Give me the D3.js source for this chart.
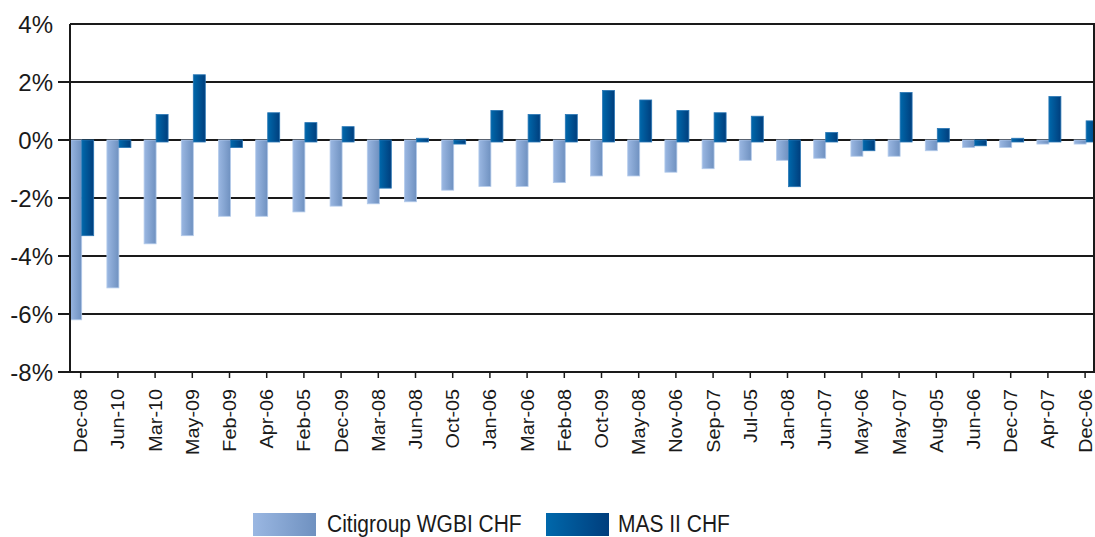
<!DOCTYPE html>
<html>
<head>
<meta charset="utf-8">
<script src="https://cdn.jsdelivr.net/npm/d3@7"></script>
<style>
  body { margin: 0; background: #fff; }
  svg text { font-family: "Liberation Sans", Arial, sans-serif; fill: #1a1a1a; }
</style>
</head>
<body>
<svg id="chart"></svg>
<script>
const categories = ["Dec-08","Jun-10","Mar-10","May-09","Feb-09","Apr-06","Feb-05","Dec-09","Mar-08","Jun-08",
    "Oct-05","Jan-06","Mar-06","Feb-08","Oct-09","May-08","Nov-06","Sep-07","Jul-05","Jan-08",
    "Jun-07","May-06","May-07","Aug-05","Jun-06","Dec-07","Apr-07","Dec-06"]
const citiValues = [-6.2,-5.1,-3.58,-3.3,-2.63,-2.63,-2.48,-2.28,-2.2,-2.13,
    -1.73,-1.6,-1.6,-1.47,-1.24,-1.24,-1.11,-0.99,-0.7,-0.7,
    -0.63,-0.56,-0.56,-0.37,-0.26,-0.26,-0.14,-0.14]
const masValues = [-3.3,-0.26,0.88,2.25,-0.26,0.94,0.6,0.46,-1.66,0.06,
    -0.14,1.02,0.88,0.88,1.71,1.38,1.02,0.94,0.82,-1.61,
    0.26,-0.37,1.64,0.4,-0.2,0.06,1.5,0.66]
const seriesNames = ["Citigroup WGBI CHF", "MAS II CHF"]
const yTicks = [-8, -6, -4, -2, 0, 2, 4]

class ReturnBars {
    constructor(_config) {
        this.config = {
            parentElement: _config.parentElement,
            containerWidth: _config.containerWidth || 1095,
            containerHeight: _config.containerHeight || 537,
            plot: {left: 70, right: 1094, top: 24, bottom: 372}
        }
        this.initVis()
    }

    initVis() {
        let vis = this
        let p = vis.config.plot

        vis.svg = d3.select(vis.config.parentElement)
            .attr('width', vis.config.containerWidth)
            .attr('height', vis.config.containerHeight)

        let defs = vis.svg.append('defs')
        vis.addGradient(defs, 'grad-light', '#9ab7e2', '#6f91c0')
        vis.addGradient(defs, 'grad-dark', '#0068ab', '#003e7d')
        defs.append('clipPath').attr('id', 'plot-clip')
            .append('rect')
            .attr('x', p.left).attr('y', p.top - 2)
            .attr('width', p.right - p.left).attr('height', p.bottom - p.top + 4)

        // bands are a bit wider than the plot, the outer bars get cut off
        vis.xScale = d3.scaleBand()
            .domain(categories)
            .range([62.1, 1103.7])
            .padding(0)
        vis.xSeries = d3.scaleBand()
            .domain(seriesNames)
            .range([7.6, 31.6])
            .padding(0)
        vis.yScale = d3.scaleLinear()
            .domain([-8, 4])
            .range([p.bottom, p.top])

        vis.gridG = vis.svg.append('g').attr('class', 'grid')
        vis.barsG = vis.svg.append('g').attr('class', 'bars').attr('clip-path', 'url(#plot-clip)')
        vis.frameG = vis.svg.append('g').attr('class', 'frame')
        vis.axisG = vis.svg.append('g').attr('class', 'axes')
        vis.legendG = vis.svg.append('g').attr('class', 'legend')

        vis.updateVis()
    }

    addGradient(defs, id, from, to) {
        let g = defs.append('linearGradient').attr('id', id)
            .attr('x1', '0%').attr('x2', '100%').attr('y1', '0%').attr('y2', '0%')
        g.append('stop').attr('offset', '0%').attr('stop-color', from)
        g.append('stop').attr('offset', '100%').attr('stop-color', to)
    }

    updateVis() {
        let vis = this
        vis.rows = categories.map((c, i) => ({
            cat: c,
            values: [
                {series: seriesNames[0], value: citiValues[i]},
                {series: seriesNames[1], value: masValues[i]}
            ]
        }))
        vis.renderVis()
    }

    renderVis() {
        let vis = this
        let p = vis.config.plot
        let y = vis.yScale

        // gridlines, with small ticks out to the left (not on the top one)
        vis.gridG.selectAll('line')
            .data(yTicks)
            .join('line')
                .attr('x1', d => d === 4 ? p.left : 58)
                .attr('x2', p.right)
                .attr('y1', d => y(d))
                .attr('y2', d => y(d))
                .attr('stroke', '#1a1a1a')
                .attr('stroke-width', 2)

        vis.barsG.selectAll('.group')
            .data(vis.rows)
            .join('g')
                .attr('class', 'group')
                .attr('transform', d => `translate(${vis.xScale(d.cat)},0)`)
            .selectAll('rect')
            .data(d => d.values)
            .join('rect')
                .attr('x', d => vis.xSeries(d.series))
                .attr('width', vis.xSeries.bandwidth())
                .attr('y', d => y(Math.max(0, d.value)))
                .attr('height', d => Math.abs(y(d.value) - y(0)) + (d.value > 0 && d.series === seriesNames[1] ? 2 : 0))
                .attr('fill', d => d.series === seriesNames[0] ? 'url(#grad-light)' : 'url(#grad-dark)')
                .attr('stroke', d => d.series === seriesNames[0] ? '#b4cbeb' : '#2b77b5')
                .attr('stroke-width', 0.8)

        // frame
        vis.frameG.append('line')
            .attr('x1', p.left).attr('x2', p.left).attr('y1', p.top).attr('y2', p.bottom)
            .attr('stroke', '#1a1a1a').attr('stroke-width', 2)
        vis.frameG.append('line')
            .attr('x1', p.right).attr('x2', p.right).attr('y1', p.top - 1).attr('y2', p.bottom + 1)
            .attr('stroke', '#1a1a1a').attr('stroke-width', 2)

        // y labels
        vis.axisG.selectAll('.y-label')
            .data(yTicks)
            .join('text')
                .attr('class', 'y-label')
                .attr('x', 53)
                .attr('y', d => y(d))
                .attr('dy', '0.36em')
                .attr('text-anchor', 'end')
                .attr('font-size', 24)
                .text(d => d + '%')

        // x ticks + rotated labels
        let xc = d => vis.xScale(d) + vis.xScale.bandwidth() / 2
        vis.axisG.selectAll('.x-tick')
            .data(categories)
            .join('line')
                .attr('class', 'x-tick')
                .attr('x1', d => xc(d)).attr('x2', d => xc(d))
                .attr('y1', p.bottom).attr('y2', p.bottom + 6)
                .attr('stroke', '#1a1a1a').attr('stroke-width', 1.5)

        vis.axisG.selectAll('.x-label')
            .data(categories)
            .join('text')
                .attr('class', 'x-label')
                .attr('transform', d => `translate(${xc(d)},389) rotate(-90) scale(1.1,1)`)
                .attr('dy', '0.36em')
                .attr('text-anchor', 'end')
                .attr('font-size', 18)
                .text(d => d)

        // legend
        let legendItems = [
            {name: seriesNames[0], fill: 'url(#grad-light)', x: 253, tx: 327},
            {name: seriesNames[1], fill: 'url(#grad-dark)', x: 546, tx: 618}
        ]
        let items = vis.legendG.selectAll('.item')
            .data(legendItems)
            .join('g')
                .attr('class', 'item')
        items.append('rect')
            .attr('x', d => d.x).attr('y', 513)
            .attr('width', 63).attr('height', 23)
            .attr('fill', d => d.fill)
        items.append('text')
            .attr('transform', d => `translate(${d.tx},531.5) scale(1,1.15)`)
            .attr('font-size', 21)
            .text(d => d.name)
    }
}

new ReturnBars({parentElement: '#chart'})
</script>
</body>
</html>
